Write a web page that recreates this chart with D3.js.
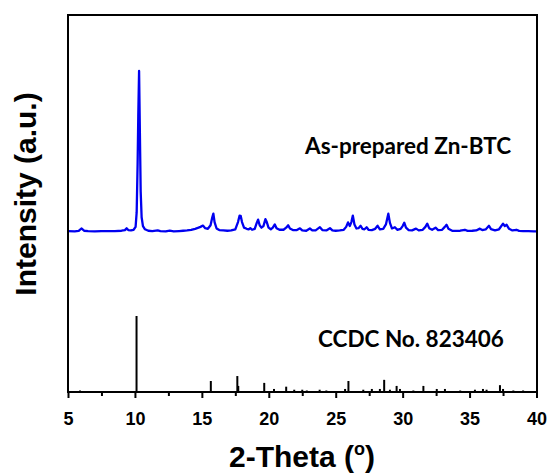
<!DOCTYPE html>
<html lang="en">
<head>
	<meta charset="UTF-8">
	<script src="https://d3js.org/d3.v7.min.js"></script>
	<title>XRD Zn-BTC</title>
	<style>
		body { margin: 0; background: #fff; }
	</style>
</head>
<body>
    <div id="chart"></div>
    <script>
        // measured scan of the as-prepared sample: [2-theta, counts]
        var sampleScan = [
            [5.0, 3], [5.5, 2], [5.8, 5], [6.0, 20], [6.2, 6], [6.5, 3], [7.0, 2], [7.5, 4], [8.0, 3],
            [8.5, 4], [9.0, 6], [9.25, 10], [9.38, 21], [9.5, 10], [9.7, 8], [9.9, 12], [10.05, 30],
            [10.13, 120], [10.2, 420], [10.25, 720], [10.31, 1000], [10.37, 620], [10.43, 250],
            [10.5, 90], [10.6, 35], [10.75, 15], [11.0, 6], [11.3, 4], [11.7, 8], [11.9, 3], [12.3, 2],
            [12.6, 6], [12.9, 2], [13.3, 4], [13.6, 6], [13.9, 8], [14.2, 12], [14.5, 18], [14.75, 25],
            [14.9, 30], [15.08, 38], [15.25, 22], [15.45, 18], [15.65, 40], [15.78, 90], [15.86, 112],
            [15.95, 60], [16.1, 20], [16.3, 10], [16.6, 8], [16.9, 6], [17.2, 8], [17.5, 15], [17.7, 60],
            [17.82, 100], [17.9, 99], [18.0, 60], [18.15, 25], [18.35, 18], [18.5, 14], [18.62, 22],
            [18.75, 12], [18.95, 18], [19.1, 55], [19.2, 75], [19.32, 40], [19.45, 25], [19.6, 35],
            [19.75, 78], [19.85, 60], [19.98, 25], [20.15, 15], [20.3, 25], [20.45, 45], [20.58, 22],
            [20.8, 12], [21.1, 12], [21.3, 25], [21.45, 40], [21.58, 20], [21.8, 10], [22.1, 10],
            [22.33, 21], [22.5, 8], [22.8, 6], [23.07, 20], [23.25, 8], [23.5, 8], [23.82, 28],
            [24.0, 10], [24.3, 8], [24.57, 22], [24.75, 8], [25.0, 6], [25.3, 8], [25.6, 12], [25.78, 30],
            [25.92, 58], [26.05, 35], [26.17, 60], [26.28, 100], [26.4, 45], [26.55, 20], [26.7, 22],
            [26.86, 37], [27.0, 18], [27.15, 15], [27.31, 28], [27.45, 12], [27.7, 10], [27.95, 18],
            [28.13, 37], [28.3, 15], [28.55, 18], [28.75, 45], [28.93, 112], [29.05, 55], [29.2, 20],
            [29.42, 28], [29.6, 12], [29.85, 18], [30.0, 35], [30.12, 56], [30.25, 25], [30.45, 10],
            [30.7, 8], [31.0, 19], [31.2, 8], [31.5, 12], [31.7, 30], [31.84, 50], [31.98, 22],
            [32.2, 12], [32.46, 25], [32.65, 10], [32.95, 12], [33.15, 30], [33.28, 43], [33.42, 18],
            [33.7, 6], [34.0, 5], [34.3, 6], [34.65, 12], [34.85, 5], [35.2, 6], [35.5, 8], [35.77, 19],
            [35.95, 10], [36.2, 14], [36.45, 37], [36.6, 16], [36.9, 8], [37.2, 15], [37.5, 50],
            [37.63, 35], [37.77, 43], [37.95, 18], [38.2, 8], [38.5, 12], [38.7, 5], [39.0, 3],
            [39.4, 4], [39.8, 2], [40.0, 2]
        ];

        // simulated pattern from CCDC 823406 (stick positions, relative intensity)
        var refTheta = [5.9, 10.12, 15.67, 17.65, 17.72, 19.66, 20.39, 21.3, 21.9, 22.5, 22.84, 23.8,
            24.3, 25.7, 25.95, 27.06, 27.7, 28.3, 28.62, 29.05, 29.55, 29.8, 30.8, 31.55, 32.55, 33.16,
            34.3, 35.4, 36.0, 36.27, 37.27, 37.5, 38.27, 39.0];
        var refIntensity = [2, 100, 14.5, 21, 8, 12, 4, 7, 3, 3, 2, 3,
            2, 4, 14.5, 3, 4, 4, 16, 3, 8, 4, 2, 8, 4, 4,
            2, 3, 4, 3, 9, 4, 2, 2];

        var majorTicks = [5, 10, 15, 20, 25, 30, 35, 40];
        var minorTicks = [7.5, 12.5, 17.5, 22.5, 27.5, 32.5, 37.5];
        var sampleLabel = "As-prepared Zn-BTC";
        var refLabel = "CCDC No. 823406";

        var width = 551,
            height = 475;
        // plot box (don't use "top" as a global name, it clashes with window.top)
        var boxL = 68, boxR = 537, boxT = 15, boxB = 392;
        var axisFont = "'Liberation Sans', Arial, sans-serif";
        var noteFont = "Lato, 'Open Sans', sans-serif";

        const svg = d3.select("#chart").append("svg")
            .attr("width", width).attr("height", height);

        var x = d3.scaleLinear().domain([5, 40]).range([boxL, 536.5]);
        // two stacked traces, each with its own vertical scale
        var ySample = d3.scaleLinear().domain([0, 1000]).range([231.7, 71]);
        var yRef = d3.scaleLinear().domain([0, 100]).range([boxB, 316]);

        // sample trace
        var line = d3.line()
            .x(function (d) { return x(d[0]); })
            .y(function (d) { return ySample(d[1]); });
        svg.append("path")
            .datum(sampleScan)
            .attr("d", line)
            .attr("fill", "none")
            .attr("stroke", "#0000f0")
            .attr("stroke-width", 2.3)
            .attr("stroke-linejoin", "round");

        // reference sticks
        svg.append("g")
            .selectAll("line")
            .data(refTheta)
            .join("line")
            .attr("x1", function (d) { return x(d); })
            .attr("x2", function (d) { return x(d); })
            .attr("y1", yRef(0))
            .attr("y2", function (d, i) { return yRef(refIntensity[i]); })
            .attr("stroke", "#000")
            .attr("stroke-width", 2);

        // frame
        svg.append("rect")
            .attr("x", boxL).attr("y", boxT)
            .attr("width", boxR - boxL).attr("height", boxB - boxT)
            .attr("fill", "none").attr("stroke", "#000").attr("stroke-width", 2);

        // x axis: major + minor ticks, pointing out
        var xAxis = svg.append("g").attr("transform", "translate(0," + boxB + ")");
        xAxis.call(d3.axisBottom(x).tickValues(majorTicks).tickSize(6).tickPadding(14)
            .tickFormat(d3.format("d")));
        xAxis.select(".domain").remove();
        xAxis.selectAll(".tick line").attr("stroke-width", 2);
        xAxis.selectAll(".tick text")
            .attr("font-family", axisFont)
            .attr("font-weight", "bold")
            .attr("font-size", "18px")
            .attr("fill", "#000");
        var xMinor = svg.append("g").attr("transform", "translate(0," + boxB + ")");
        xMinor.call(d3.axisBottom(x).tickValues(minorTicks).tickSize(4).tickFormat(""));
        xMinor.select(".domain").remove();
        xMinor.selectAll(".tick line").attr("stroke-width", 2);

        // axis titles
        var xTitle = svg.append("text")
            .attr("x", 302).attr("y", 466.5)
            .attr("text-anchor", "middle")
            .attr("font-family", axisFont)
            .attr("font-weight", "bold")
            .attr("font-size", "30px")
            .attr("fill", "#000");
        xTitle.append("tspan").text("2-Theta (");
        xTitle.append("tspan").attr("font-size", "18px").attr("dy", -12).text("o");
        xTitle.append("tspan").attr("dy", 12).text(")");

        svg.append("text")
            .attr("transform", "translate(36,194) rotate(-90)")
            .attr("text-anchor", "middle")
            .attr("font-family", axisFont)
            .attr("font-weight", "bold")
            .attr("font-size", "30px")
            .attr("fill", "#000")
            .text("Intensity (a.u.)");

        // trace labels
        svg.append("text")
            .attr("x", 305).attr("y", 154)
            .attr("font-family", noteFont)
            .attr("font-weight", "bold")
            .attr("font-size", "22.5px")
            .attr("fill", "#000")
            .text(sampleLabel);
        svg.append("text")
            .attr("x", 318).attr("y", 346.5)
            .attr("font-family", noteFont)
            .attr("font-weight", "bold")
            .attr("font-size", "22.5px")
            .attr("fill", "#000")
            .text(refLabel);
    </script>
</body>
</html>
